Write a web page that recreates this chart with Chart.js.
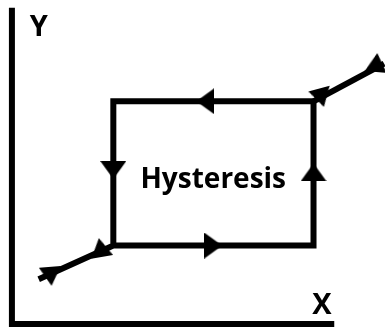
<!DOCTYPE html>
<html>
<head>
<meta charset="utf-8">
<script src="https://cdn.jsdelivr.net/npm/chart.js@4/dist/chart.umd.min.js"></script>
<style>
  html, body { margin: 0; padding: 0; background: #fff; }
  #wrap { width: 385px; height: 328px; }
</style>
</head>
<body>
<div id="wrap"><canvas id="chart-hysteresis" width="385" height="328"></canvas></div>
<script>
// axes drawn as an L: top of Y axis, origin, end of X axis
const axisX = [2.1, 2.1, 87.6];
const axisY = [98.8, 0, 0];

// loop: lower-left tail, then round the rectangle
const loopX = [9.2, 29.0, 82.1, 82.1, 29.0, 29.0];
const loopY = [14.0, 24.5, 24.5, 69.6, 69.6, 24.5];

// upper-right tail
const tailX = [82.1, 100.8];
const tailY = [69.6, 81.4];

// arrow heads (rotation in degrees, 0 = pointing up)
const arrowX = [53.4, 29.0, 55.5, 82.1, 12.4, 25.6, 84.2, 98.8];
const arrowY = [69.6, 48.1, 24.5, 47.4, 14.9, 23.9, 70.7, 81.7];
const arrowRot = [270, 180, 90, 0, 175, 350, 165, 5];
const arrowSmall = [false, false, false, false, true, true, true, true];

// texts
const labelText = ['Y', 'X', 'Hysteresis'];
const labelX = [9.2, 84.3, 55.5];
const labelY = [90.1, 3.1, 42.5];

function makeArrow(w, h){
    const c = document.createElement('canvas');
    c.width = w;
    c.height = h;
    const ctx = c.getContext('2d');
    ctx.fillStyle = '#000';
    ctx.beginPath();
    ctx.moveTo(w / 2, 0);
    ctx.lineTo(w, h);
    ctx.lineTo(0, h);
    ctx.closePath();
    ctx.fill();
    return c;
}
const bigArrow = makeArrow(26, 18);
const smallArrow = makeArrow(22, 19);

function toPoints(xs, ys){
    return xs.map((x, i) => ({x: x, y: ys[i]}));
}

const textPlugin = {
    id: 'diagramText',
    afterDatasetsDraw(chart){
        const ctx = chart.ctx;
        const xs = chart.scales.x;
        const ys = chart.scales.y;
        ctx.save();
        ctx.fillStyle = '#000';
        ctx.textAlign = 'center';
        ctx.textBaseline = 'alphabetic';
        labelText.forEach((t, i) => {
            ctx.font = t === 'Hysteresis' ? 'bold 28px "Open Sans"' : 'bold 29px "Open Sans"';
            ctx.fillText(t, xs.getPixelForValue(labelX[i]), ys.getPixelForValue(labelY[i]));
        });
        ctx.restore();
    }
};

const lineStyle = {
    showLine: true,
    borderColor: '#000',
    borderWidth: 6,
    borderJoinStyle: 'miter',
    borderCapStyle: 'butt',
    pointRadius: 0,
    fill: false,
    tension: 0,
    clip: false
};

new Chart(document.getElementById('chart-hysteresis'), {
    type: 'scatter',
    data: {
        datasets: [
            Object.assign({label: 'axes', data: toPoints(axisX, axisY)}, lineStyle),
            Object.assign({label: 'loop', data: toPoints(loopX, loopY)}, lineStyle),
            Object.assign({label: 'tail', data: toPoints(tailX, tailY)}, lineStyle),
            {
                label: 'arrows',
                data: toPoints(arrowX, arrowY),
                showLine: false,
                pointStyle: arrowSmall.map(s => s ? smallArrow : bigArrow),
                pointRotation: arrowRot,
                pointRadius: 0.5,
                pointBorderWidth: 0,
                clip: false
            }
        ]
    },
    options: {
        responsive: false,
        animation: false,
        layout: { padding: 0 },
        plugins: {
            legend: { display: false },
            tooltip: { enabled: false }
        },
        scales: {
            x: { type: 'linear', min: 0, max: 100, display: false },
            y: { type: 'linear', min: 0, max: 100, display: false }
        }
    },
    plugins: [textPlugin]
});
</script>
</body>
</html>
